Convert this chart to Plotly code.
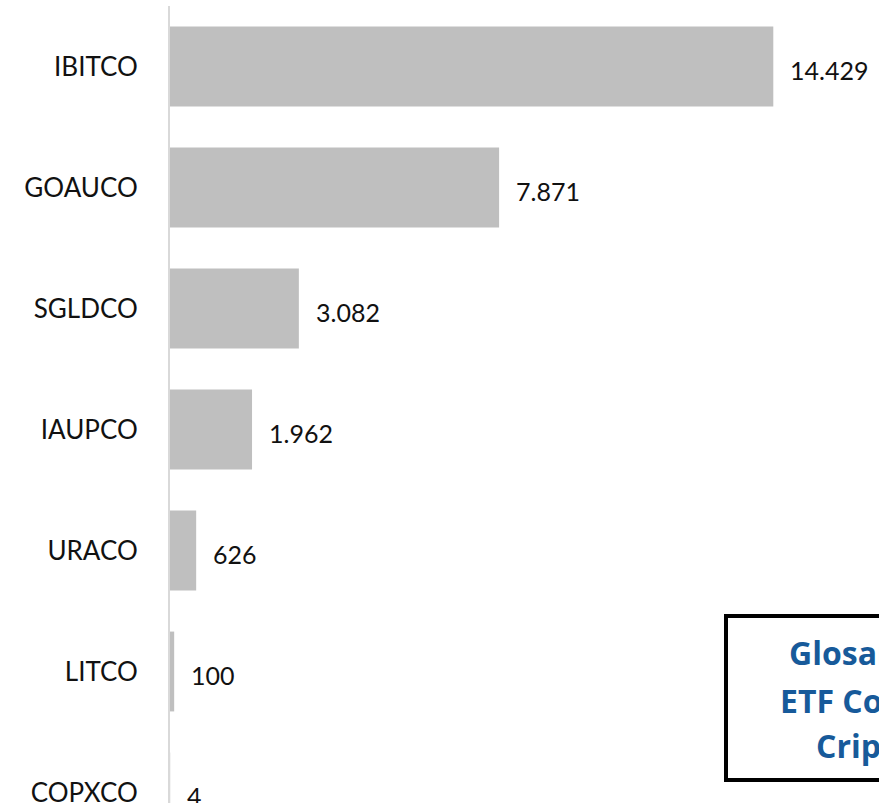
import plotly.graph_objects as go

categories = ["IBITCO", "GOAUCO", "SGLDCO", "IAUPCO", "URACO", "LITCO", "COPXCO"]
values = [14429, 7871, 3082, 1962, 626, 100, 4]
value_labels = [f"{v:,}".replace(",", ".") for v in values]

box_lines = ["Glosario", "ETF Commodities", "Cripto"]

W, H = 879, 803
ML, MT = 170, 6
plot_h = H - MT
px_per_cat = 121
x_max = 16957

fig = go.Figure()
fig.add_trace(go.Bar(
    x=values, y=categories, orientation="h",
    marker=dict(color="#BFBFBF", line=dict(width=0)),
    hoverinfo="skip",
))

for cat, v, lab in zip(categories, values, value_labels):
    fig.add_annotation(
        x=v, y=cat, xref="x", yref="y", text=lab, showarrow=False,
        xanchor="left", yanchor="middle", xshift=15, yshift=-3,
        font=dict(family="Lato", size=25, color="#111111"),
    )

# Glossary box (cropped at right edge)
def px_to_paper_x(px):
    return (px - ML) / (W - ML)

def px_to_paper_y(py):
    return (H - py) / plot_h

fig.add_shape(
    type="rect", xref="paper", yref="paper",
    x0=px_to_paper_x(726), x1=px_to_paper_x(1100),
    y0=px_to_paper_y(780), y1=px_to_paper_y(616),
    line=dict(color="#000000", width=4), fillcolor="rgba(0,0,0,0)",
    layer="above",
)
for text, lx, cy in zip(box_lines, [787, 778, 814], [652, 700, 745]):
    fig.add_annotation(
        x=px_to_paper_x(lx), y=px_to_paper_y(cy), xref="paper", yref="paper",
        text=f"<b>{text}</b>", showarrow=False, xanchor="left", yanchor="middle",
        font=dict(family="Open Sans", size=32, color="#175A9A"),
    )

fig.update_layout(
    width=W, height=H,
    margin=dict(l=ML, r=0, t=MT, b=0, autoexpand=False),
    paper_bgcolor="white", plot_bgcolor="white",
    bargap=0.34, showlegend=False,
    xaxis=dict(range=[0, x_max], visible=False, fixedrange=True),
    yaxis=dict(
        range=[-0.5 + plot_h / px_per_cat, -0.5],
        type="category",
        showline=True, linecolor="#D9D9D9", linewidth=2,
        showgrid=False, zeroline=False, ticks="",
        ticklabelstandoff=25, fixedrange=True,
        tickfont=dict(family="Lato", size=26, color="#111111"),
        automargin=False,
    ),
)

fig.write_html(
    "out.html",
    config={"displayModeBar": False, "staticPlot": True},
    post_script="document.body.style.margin='0px';document.body.style.overflow='hidden';",
)
